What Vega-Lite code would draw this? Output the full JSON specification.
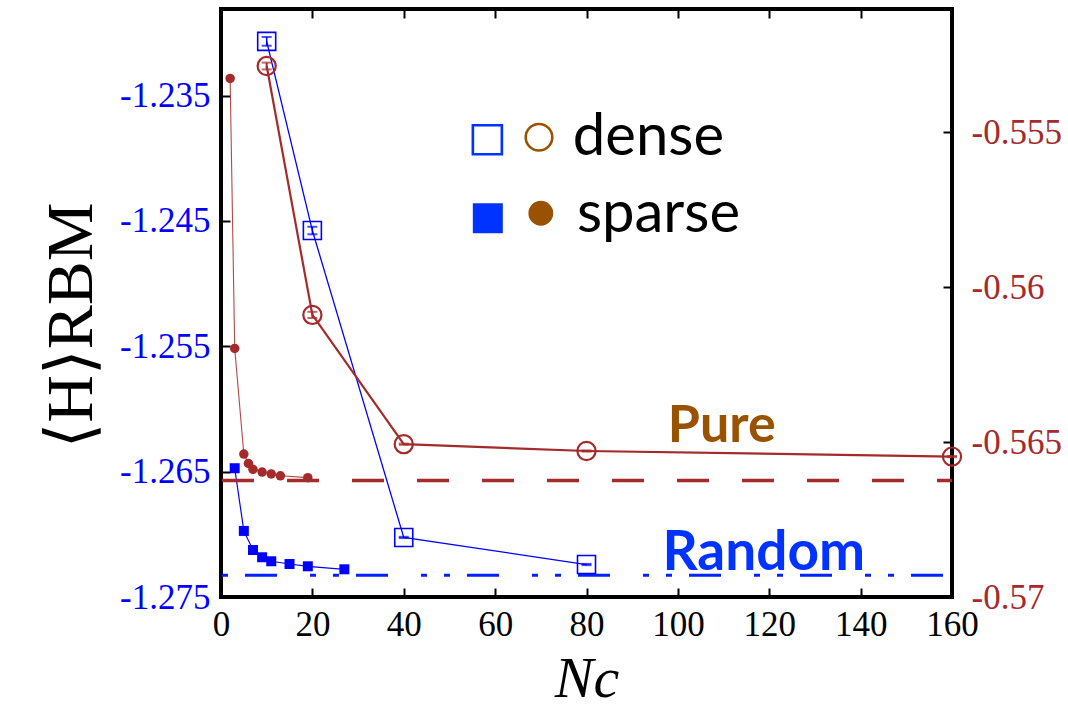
{
  "$schema": "https://vega.github.io/schema/vega-lite/v6.json",
  "autosize": {"type": "none"},
  "padding": {"left": 221, "top": 9, "right": 116, "bottom": 117},
  "width": 731,
  "height": 588,
  "background": "white",
  "config": {
    "view": {"stroke": "black", "strokeWidth": 4},
    "font": "Liberation Serif, Times New Roman, serif",
    "axis": {"grid": false, "domain": false}
  },
  "datasets": {
    "blue": [
      {"kind": "dense", "x": 10, "y": -1.23068, "lo": -1.23103, "hi": -1.23033},
      {"kind": "dense", "x": 20, "y": -1.24577, "lo": -1.24607, "hi": -1.24547},
      {"kind": "dense", "x": 40, "y": -1.27025, "lo": -1.2703, "hi": -1.2702},
      {"kind": "dense", "x": 80, "y": -1.27241, "lo": -1.27246, "hi": -1.27236},
      {"kind": "sparse", "x": 3, "y": -1.26473},
      {"kind": "sparse", "x": 5, "y": -1.26973},
      {"kind": "sparse", "x": 7, "y": -1.27125},
      {"kind": "sparse", "x": 9, "y": -1.27183},
      {"kind": "sparse", "x": 11, "y": -1.27215},
      {"kind": "sparse", "x": 15, "y": -1.27237},
      {"kind": "sparse", "x": 19, "y": -1.27255},
      {"kind": "sparse", "x": 27, "y": -1.27279}
    ],
    "red": [
      {"kind": "dense", "x": 10, "y": -0.55287, "lo": -0.55298, "hi": -0.55276},
      {"kind": "dense", "x": 20, "y": -0.5609, "lo": -0.561, "hi": -0.5608},
      {"kind": "dense", "x": 40, "y": -0.56507, "lo": -0.56509, "hi": -0.56505},
      {"kind": "dense", "x": 80, "y": -0.56529, "lo": -0.56531, "hi": -0.56527},
      {"kind": "dense", "x": 160, "y": -0.56547, "lo": -0.56549, "hi": -0.56545},
      {"kind": "sparse", "x": 2, "y": -0.55327},
      {"kind": "sparse", "x": 3, "y": -0.56198},
      {"kind": "sparse", "x": 5, "y": -0.56539},
      {"kind": "sparse", "x": 6, "y": -0.56569},
      {"kind": "sparse", "x": 7, "y": -0.56588},
      {"kind": "sparse", "x": 9, "y": -0.56597},
      {"kind": "sparse", "x": 11, "y": -0.56603},
      {"kind": "sparse", "x": 13, "y": -0.56609},
      {"kind": "sparse", "x": 19, "y": -0.56615}
    ],
    "refs": [
      {"which": "random", "x1": 0, "x2": 160, "y": -1.27327},
      {"which": "pure", "x1": 0, "x2": 160, "y": -0.56624}
    ],
    "legendMarks": [
      {"kind": "open", "x": 58.3, "y": -1.23853, "shape": "square", "color": "#0033ff", "size": 841},
      {"kind": "open", "x": 69.6, "y": -1.23833, "shape": "circle", "color": "#995200", "size": 707},
      {"kind": "filled", "x": 58.4, "y": -1.24479, "shape": "square", "color": "#0033ff", "size": 900},
      {"kind": "filled", "x": 70.0, "y": -1.24439, "shape": "circle", "color": "#995200", "size": 616}
    ],
    "legendText": [
      {"label": "dense", "x": 77.0, "y": -1.23972},
      {"label": "sparse", "x": 77.9, "y": -1.24585}
    ],
    "notesLeft": [
      {"label": "Random", "x": 118.8, "y": -1.27285}
    ],
    "notesRight": [
      {"label": "Pure", "x": 109.6, "y": -0.565}
    ]
  },
  "layer": [
    {
      "layer": [
        {
          "data": {"name": "refs"},
          "transform": [{"filter": "datum.which === 'random'"}],
          "mark": {"type": "rule", "color": "#0022ff", "strokeWidth": 3, "strokeDash": [32, 33, 6, 17, 6, 17], "strokeDashOffset": 87},
          "encoding": {
            "x": {"field": "x1", "type": "quantitative", "scale": {"domain": [0, 160], "nice": false, "zero": false}},
            "x2": {"field": "x2"},
            "y": {"field": "y", "type": "quantitative", "scale": {"domain": [-1.275, -1.2281], "nice": false, "zero": false}}
          }
        },
        {
          "data": {"name": "blue"},
          "transform": [{"filter": "datum.kind === 'dense'"}],
          "mark": {"type": "line", "color": "#0000ff", "strokeWidth": 1.3, "point": {"shape": "square", "filled": false, "size": 324, "strokeWidth": 1.6, "color": "#0000ff"}},
          "encoding": {
            "x": {
              "field": "x", "type": "quantitative",
              "scale": {"domain": [0, 160], "nice": false, "zero": false},
              "axis": {
                "orient": "bottom", "values": [0, 20, 40, 60, 80, 100, 120, 140, 160],
                "domain": false, "grid": false, "tickSize": -9, "tickWidth": 2, "tickColor": "black",
                "labelFont": "Liberation Serif, Times New Roman, serif", "labelFontSize": 35, "labelColor": "black", "labelPadding": 19,
                "labelFlush": false, "labelOverlap": false,
                "title": "Nc", "titleFont": "Liberation Serif, Times New Roman, serif", "titleFontSize": 58, "titleFontStyle": "italic",
                "titleFontWeight": "normal", "titleColor": "black", "titlePadding": 8
              }
            },
            "y": {
              "field": "y", "type": "quantitative",
              "title": "⟨H⟩RBM",
              "scale": {"domain": [-1.275, -1.2281], "nice": false, "zero": false},
              "axis": {
                "orient": "left", "values": [-1.275, -1.265, -1.255, -1.245, -1.235],
                "labelExpr": "'-' + format(abs(datum.value), '.3f')",
                "domain": false, "grid": false, "tickSize": -9, "tickWidth": 2, "tickColor": "black",
                "labelFont": "Liberation Serif, Times New Roman, serif", "labelFontSize": 35, "labelColor": "#0000ff", "labelPadding": 20,
                "labelFlush": false, "labelOverlap": false,
                "title": "⟨H⟩RBM", "titleFont": "Liberation Serif, DejaVu Serif, serif", "titleFontSize": 66,
                "titleFontWeight": "normal", "titleColor": "black", "titlePadding": 14, "titleY": 316
              }
            }
          }
        },
        {
          "data": {"name": "blue"},
          "transform": [{"filter": "datum.kind === 'dense'"}],
          "mark": {"type": "errorbar", "color": "#0000ff", "thickness": 1.5, "ticks": {"size": 10, "thickness": 2}},
          "encoding": {
            "x": {"field": "x", "type": "quantitative", "scale": {"domain": [0, 160], "nice": false, "zero": false}},
            "y": {"field": "lo", "type": "quantitative", "title": "⟨H⟩RBM", "scale": {"domain": [-1.275, -1.2281], "nice": false, "zero": false}},
            "y2": {"field": "hi"}
          }
        },
        {
          "data": {"name": "blue"},
          "transform": [{"filter": "datum.kind === 'sparse'"}],
          "mark": {"type": "line", "color": "#0000ff", "strokeWidth": 1.2, "point": {"shape": "square", "filled": true, "size": 100, "color": "#0000ff"}},
          "encoding": {
            "x": {"field": "x", "type": "quantitative", "scale": {"domain": [0, 160], "nice": false, "zero": false}},
            "y": {"field": "y", "type": "quantitative", "scale": {"domain": [-1.275, -1.2281], "nice": false, "zero": false}}
          }
        },
        {
          "data": {"name": "legendMarks"},
          "transform": [{"filter": "datum.kind === 'open'"}],
          "mark": {"type": "point", "filled": false, "strokeWidth": 2.6, "opacity": 1},
          "encoding": {
            "x": {"field": "x", "type": "quantitative", "scale": {"domain": [0, 160], "nice": false, "zero": false}},
            "y": {"field": "y", "type": "quantitative", "scale": {"domain": [-1.275, -1.2281], "nice": false, "zero": false}},
            "shape": {"field": "shape", "type": "nominal", "scale": null},
            "color": {"field": "color", "type": "nominal", "scale": null},
            "size": {"field": "size", "type": "quantitative", "scale": null}
          }
        },
        {
          "data": {"name": "legendMarks"},
          "transform": [{"filter": "datum.kind === 'filled'"}],
          "mark": {"type": "point", "filled": true, "opacity": 1},
          "encoding": {
            "x": {"field": "x", "type": "quantitative", "scale": {"domain": [0, 160], "nice": false, "zero": false}},
            "y": {"field": "y", "type": "quantitative", "scale": {"domain": [-1.275, -1.2281], "nice": false, "zero": false}},
            "shape": {"field": "shape", "type": "nominal", "scale": null},
            "color": {"field": "color", "type": "nominal", "scale": null},
            "size": {"field": "size", "type": "quantitative", "scale": null}
          }
        },
        {
          "data": {"name": "legendText"},
          "mark": {"type": "text", "align": "left", "baseline": "alphabetic", "font": "Lato", "fontSize": 58, "color": "black"},
          "encoding": {
            "x": {"field": "x", "type": "quantitative", "scale": {"domain": [0, 160], "nice": false, "zero": false}},
            "y": {"field": "y", "type": "quantitative", "scale": {"domain": [-1.275, -1.2281], "nice": false, "zero": false}},
            "text": {"field": "label"}
          }
        },
        {
          "data": {"name": "notesLeft"},
          "mark": {"type": "text", "align": "center", "baseline": "alphabetic", "font": "Lato", "fontSize": 55, "fontWeight": "bold", "color": "#0033ff"},
          "encoding": {
            "x": {"field": "x", "type": "quantitative", "scale": {"domain": [0, 160], "nice": false, "zero": false}},
            "y": {"field": "y", "type": "quantitative", "scale": {"domain": [-1.275, -1.2281], "nice": false, "zero": false}},
            "text": {"field": "label"}
          }
        }
      ]
    },
    {
      "layer": [
        {
          "data": {"name": "refs"},
          "transform": [{"filter": "datum.which === 'pure'"}],
          "mark": {"type": "rule", "color": "#a52a2a", "strokeWidth": 3.5, "strokeDash": [32, 33], "strokeDashOffset": 64},
          "encoding": {
            "x": {"field": "x1", "type": "quantitative", "scale": {"domain": [0, 160], "nice": false, "zero": false}},
            "x2": {"field": "x2"},
            "y": {"field": "y", "type": "quantitative", "scale": {"domain": [-0.57, -0.55103], "nice": false, "zero": false}}
          }
        },
        {
          "data": {"name": "red"},
          "transform": [{"filter": "datum.kind === 'dense'"}],
          "mark": {"type": "line", "color": "#a52a2a", "strokeWidth": 2.2, "point": {"shape": "circle", "filled": false, "size": 330, "strokeWidth": 2.2, "color": "#a52a2a"}},
          "encoding": {
            "x": {
              "field": "x", "type": "quantitative",
              "scale": {"domain": [0, 160], "nice": false, "zero": false},
              "axis": {
                "orient": "top", "values": [0, 20, 40, 60, 80, 100, 120, 140, 160],
                "domain": false, "grid": false, "labels": false, "title": null,
                "tickSize": -9, "tickWidth": 2, "tickColor": "black"
              }
            },
            "y": {
              "field": "y", "type": "quantitative",
              "scale": {"domain": [-0.57, -0.55103], "nice": false, "zero": false},
              "axis": {
                "orient": "right", "values": [-0.57, -0.565, -0.56, -0.555],
                "labelExpr": "'-' + format(abs(datum.value), '.3~f')",
                "domain": false, "grid": false, "tickSize": -9, "tickWidth": 2, "tickColor": "black",
                "labelFont": "Liberation Serif, Times New Roman, serif", "labelFontSize": 35, "labelColor": "#a52a2a", "labelPadding": 28,
                "labelFlush": false, "labelOverlap": false, "title": null
              }
            }
          }
        },
        {
          "data": {"name": "red"},
          "transform": [{"filter": "datum.kind === 'dense'"}],
          "mark": {"type": "errorbar", "color": "#a52a2a", "thickness": 2, "ticks": {"size": 10, "thickness": 2}},
          "encoding": {
            "x": {"field": "x", "type": "quantitative", "scale": {"domain": [0, 160], "nice": false, "zero": false}},
            "y": {"field": "lo", "type": "quantitative", "scale": {"domain": [-0.57, -0.55103], "nice": false, "zero": false}},
            "y2": {"field": "hi"}
          }
        },
        {
          "data": {"name": "red"},
          "transform": [{"filter": "datum.kind === 'sparse'"}],
          "mark": {"type": "line", "color": "#a52a2a", "strokeWidth": 1.1, "strokeOpacity": 0.85, "point": {"shape": "circle", "filled": true, "size": 90, "color": "#a52a2a", "opacity": 1}},
          "encoding": {
            "x": {"field": "x", "type": "quantitative", "scale": {"domain": [0, 160], "nice": false, "zero": false}},
            "y": {"field": "y", "type": "quantitative", "scale": {"domain": [-0.57, -0.55103], "nice": false, "zero": false}}
          }
        },
        {
          "data": {"name": "notesRight"},
          "mark": {"type": "text", "align": "center", "baseline": "alphabetic", "font": "Lato", "fontSize": 52, "fontWeight": "bold", "color": "#995200"},
          "encoding": {
            "x": {"field": "x", "type": "quantitative", "scale": {"domain": [0, 160], "nice": false, "zero": false}},
            "y": {"field": "y", "type": "quantitative", "scale": {"domain": [-0.57, -0.55103], "nice": false, "zero": false}},
            "text": {"field": "label"}
          }
        }
      ]
    }
  ],
  "resolve": {"scale": {"y": "independent"}, "axis": {"x": "independent"}}
}
